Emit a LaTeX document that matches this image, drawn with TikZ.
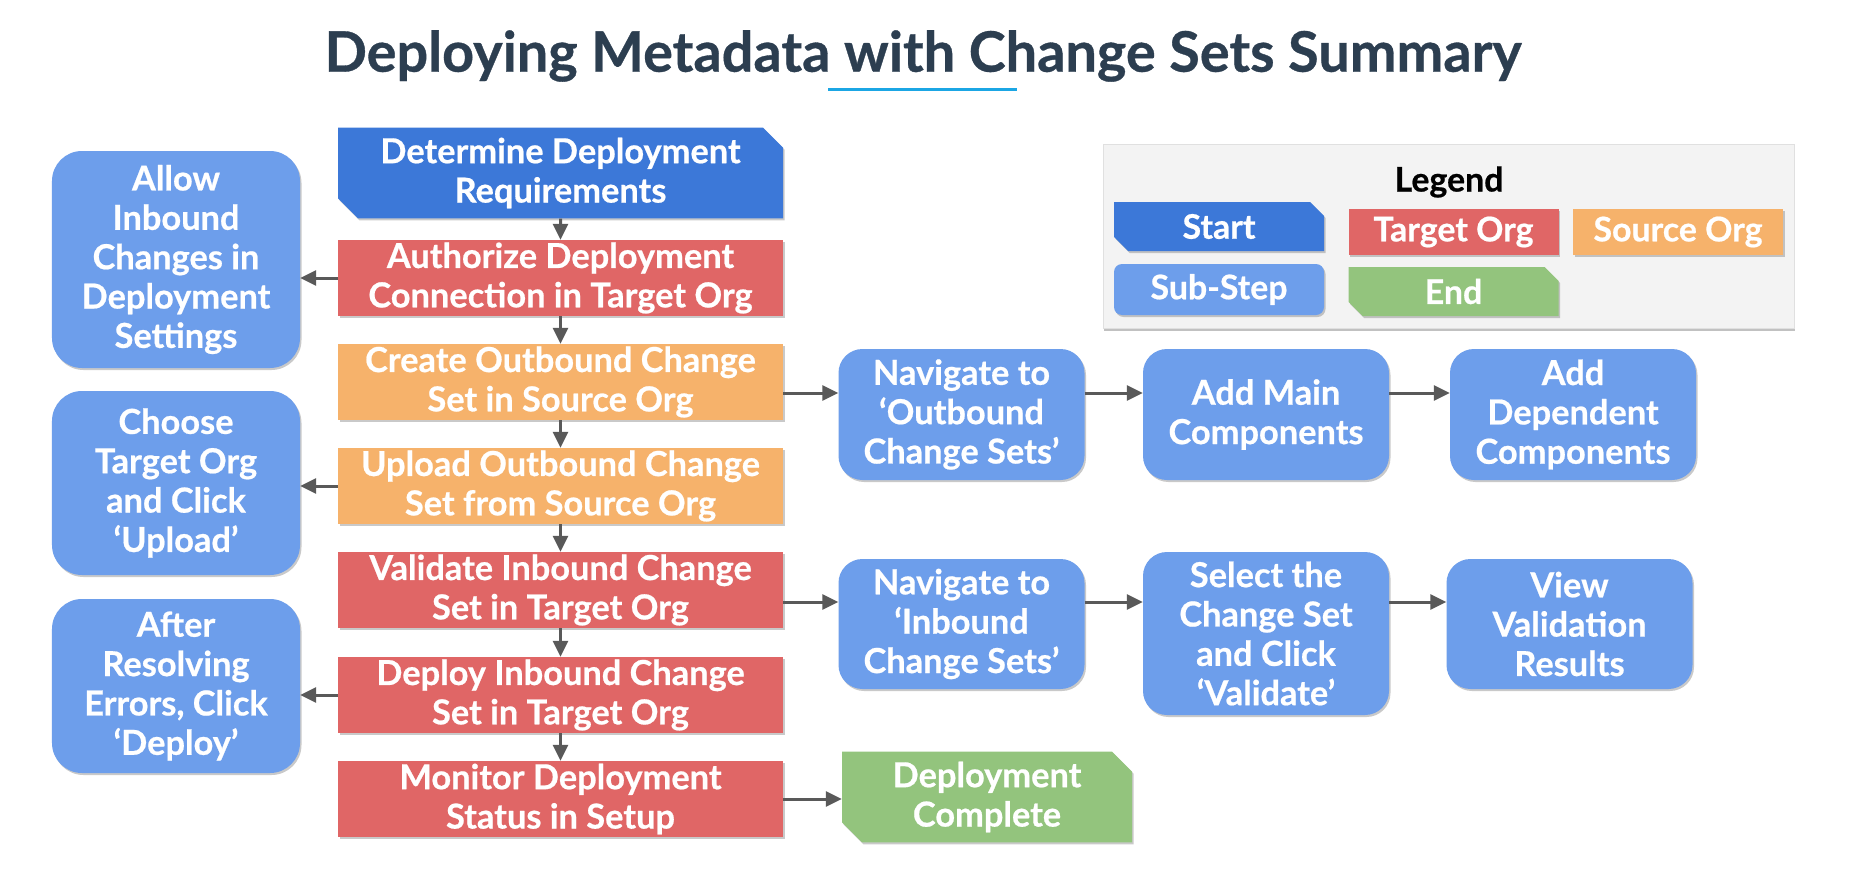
\documentclass[tikz,border=0pt]{standalone}
\usepackage{fontspec}
\setmainfont{Lato}[BoldFeatures={FakeBold=0.6}]
\usetikzlibrary{arrows.meta,shapes.misc,shadows}
\definecolor{startc}{HTML}{3C78D8}
\definecolor{targetc}{HTML}{E06666}
\definecolor{sourcec}{HTML}{F6B26B}
\definecolor{subc}{HTML}{6D9EEB}
\definecolor{endc}{HTML}{93C47D}
\definecolor{arrc}{HTML}{595959}
\definecolor{titlec}{HTML}{2C3E50}
\definecolor{ulc}{HTML}{1BA6E4}
\definecolor{legbg}{HTML}{F3F3F3}
\newcommand\boxfont{\fontsize{34.5}{39.5}\selectfont\bfseries}
\newcommand\legfont{\fontsize{34}{38}\selectfont\bfseries}
\tikzset{
  shd/.style={drop shadow={shadow xshift=1.5bp,shadow yshift=-2bp,opacity=0.35,fill=black!60}},
  box/.style={font=\boxfont, text=white, align=center, inner sep=0pt, shd},
  mainbox/.style={box, rectangle, minimum width=445bp, minimum height=76bp},
  targetbox/.style={mainbox, fill=targetc},
  sourcebox/.style={mainbox, fill=sourcec},
  snipbox/.style={box, chamfered rectangle, chamfered rectangle corners={north east,south west}, chamfered rectangle xsep=10bp, chamfered rectangle ysep=10bp},
  startbox/.style={snipbox, fill=startc, minimum width=445bp, minimum height=74bp},
  endbox/.style={snipbox, fill=endc, minimum width=290bp, minimum height=75bp},
  subbox/.style={box, rectangle, rounded corners=24bp, fill=subc, minimum width=246bp},
  arr/.style={draw=arrc, line width=3bp, -{Triangle[length=16bp,width=15bp]}},
  legitem/.style={font=\legfont, text=white, align=center, inner sep=0pt, shd, minimum width=210bp}
}
\begin{document}
\begin{tikzpicture}[x=1bp,y=-1bp]
\useasboundingbox[fill=white] (0,0) rectangle (1854,880);
% title
\node[font=\fontsize{56}{60}\selectfont\bfseries, text=titlec] (title) at (923,56) {Deploying Metadata with Change Sets Summary};
\coordinate (ul1) at (828,89);
\coordinate (ul2) at (1017,89);
\draw[line width=3bp, draw=ulc] (ul1) -- (ul2);

% main column
\node[startbox] (start) at (560.5,173) {Determine Deployment\\Requirements};
\node[targetbox] (auth) at (560.5,278) {Authorize Deployment\\Connection in Target Org};
\node[sourcebox] (create) at (560.5,382) {Create Outbound Change\\Set in Source Org};
\node[sourcebox] (upload) at (560.5,486) {Upload Outbound Change\\Set from Source Org};
\node[targetbox] (validate) at (560.5,590) {Validate Inbound Change\\Set in Target Org};
\node[targetbox] (deploy) at (560.5,695) {Deploy Inbound Change\\Set in Target Org};
\node[targetbox] (monitor) at (560.5,799) {Monitor Deployment\\Status in Setup};

% left column
\node[subbox, rounded corners=30bp, minimum width=248bp, minimum height=217bp] (allow) at (176,259.5) {Allow\\Inbound\\Changes in\\Deployment\\Settings};
\node[subbox, rounded corners=30bp, minimum width=248bp, minimum height=184bp] (choose) at (176,483) {Choose\\Target Org\\and Click\\‘Upload’};
\node[subbox, rounded corners=30bp, minimum width=248bp, minimum height=174bp] (after) at (176,686) {After\\Resolving\\Errors, Click\\‘Deploy’};

% right rows
\node[subbox, minimum height=131bp] (nav1) at (961.5,414.5) {Navigate to\\‘Outbound\\Change Sets’};
\node[subbox, minimum height=131bp] (addmain) at (1266,414.5) {Add Main\\Components};
\node[subbox, minimum height=131bp] (adddep) at (1573,414.5) {Add\\Dependent\\Components};
\node[subbox, minimum height=130bp] (nav2) at (961.5,624) {Navigate to\\‘Inbound\\Change Sets’};
\node[subbox, minimum height=163bp] (select) at (1266,633.5) {Select the\\Change Set\\and Click\\‘Validate’};
\node[subbox, minimum height=130bp] (view) at (1569.5,624) {View\\Validation\\Results};
\node[endbox] (complete) at (987,797) {Deployment\\Complete};

% connectors
\draw[arr] (start) -- (auth);
\draw[arr] (auth) -- (create);
\draw[arr] (create) -- (upload);
\draw[arr] (upload) -- (validate);
\draw[arr] (validate) -- (deploy);
\draw[arr] (deploy) -- (monitor);
\draw[arr] (auth.west) -- (auth.west -| allow.east);
\draw[arr] (upload.west) -- (upload.west -| choose.east);
\draw[arr] (deploy.west) -- (deploy.west -| after.east);
\coordinate (r1) at (0,393);
\coordinate (r2) at (0,602);
\draw[arr] (create.east |- r1) -- (nav1.west |- r1);
\draw[arr] (nav1.east |- r1) -- (addmain.west |- r1);
\draw[arr] (addmain.east |- r1) -- (adddep.west |- r1);
\draw[arr] (validate.east |- r2) -- (nav2.west |- r2);
\draw[arr] (nav2.east |- r2) -- (select.west |- r2);
\draw[arr] (select.east |- r2) -- (view.west |- r2);
\draw[arr] (monitor.east) -- (monitor.east -| complete.west);

% legend
\node[fill=legbg, draw=black!12, minimum width=691bp, minimum height=184bp, inner sep=0pt, drop shadow={shadow xshift=1bp,shadow yshift=-2.5bp,opacity=0.4,fill=black!60}] (legend) at (1448.5,236) {};
\node[font=\legfont, text=black] (legtitle) at (1449,182) {Legend};
\node[legitem, chamfered rectangle, chamfered rectangle corners={north east,south west}, chamfered rectangle xsep=7bp, chamfered rectangle ysep=7bp, fill=startc, minimum height=49bp] (lstart) at (1219,226.5) {Start};
\node[legitem, rectangle, fill=targetc, minimum height=46bp] (ltarget) at (1453.5,232) {Target Org};
\node[legitem, rectangle, fill=sourcec, minimum height=46bp] (lsource) at (1678,232) {Source Org};
\node[legitem, rectangle, rounded corners=8bp, fill=subc, minimum height=51bp] (lsub) at (1219,289.5) {Sub-Step};
\node[legitem, chamfered rectangle, chamfered rectangle corners={north east,south west}, chamfered rectangle xsep=7bp, chamfered rectangle ysep=7bp, fill=endc, minimum height=49bp] (lend) at (1453.5,291.5) {End};
\end{tikzpicture}
\end{document}
